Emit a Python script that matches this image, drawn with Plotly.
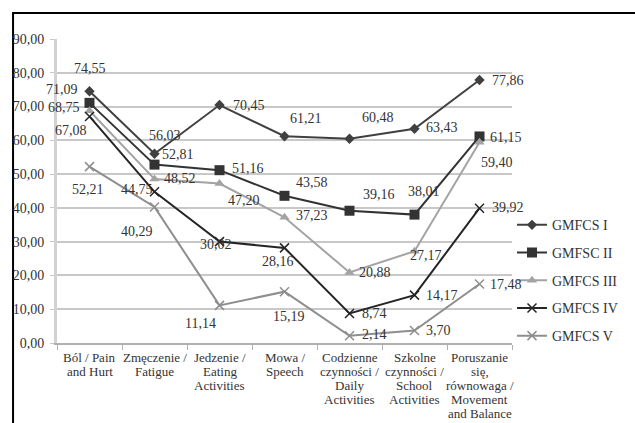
import plotly.graph_objects as go

# Categories (x-axis); each label is split into its printed lines
category_lines = [
    ["Ból / Pain", "and Hurt"],
    ["Zmęczenie /", "Fatigue"],
    ["Jedzenie /", "Eating", "Activities"],
    ["Mowa /", "Speech"],
    ["Codzienne", "czynności /", "Daily", "Activities"],
    ["Szkolne", "czynności /", "School", "Activities"],
    ["Poruszanie", "się,", "równowaga /", "Movement", "and Balance"],
]
categories = [" ".join(lines) for lines in category_lines]

series_names = ["GMFCS I", "GMFSC II", "GMFCS III", "GMFCS IV", "GMFCS V"]

gmfcs_1 = [74.55, 56.03, 70.45, 61.21, 60.48, 63.43, 77.86]
gmfcs_2 = [71.09, 52.81, 51.16, 43.58, 39.16, 38.01, 61.15]
gmfcs_3 = [68.75, 48.52, 47.20, 37.23, 20.88, 27.17, 59.40]
gmfcs_4 = [67.08, 44.75, 30.02, 28.16, 8.74, 14.17, 39.92]
gmfcs_5 = [52.21, 40.29, 11.14, 15.19, 2.14, 3.70, 17.48]

series_values = [gmfcs_1, gmfcs_2, gmfcs_3, gmfcs_4, gmfcs_5]

y_ticks = [0, 10, 20, 30, 40, 50, 60, 70, 80, 90]

# Styling per series
line_colors = ["#404040", "#333333", "#a3a3a3", "#252525", "#8e8e8e"]
marker_symbols = ["diamond", "square", "triangle-up", "x-thin", "x-thin"]
marker_sizes = [8, 10, 9, 9, 9]

# Pixel offsets (dx, dy) of each value label from its point
label_offsets = [
    [(0, -23), (10, -18), (29, 0), (21, -18), (28, -21), (27, -1), (28, 0)],
    [(-28, -13), (23, -10), (28, -2), (27, -13), (29, -16), (9, -23), (26, 1)],
    [(-26, -3), (25, -1), (24, 17), (27, -2), (25, 0), (11, 4), (17, 20)],
    [(-19, 14), (-18, -2), (-4, 3), (-7, 14), (25, 0), (27, 0), (28, -1)],
    [(-2, 23), (-18, 25), (-19, 18), (4, 25), (25, -1), (24, 0), (26, 1)],
]

serif = "Liberation Serif, Times New Roman, serif"
text_color = "#333333"

fig = go.Figure()
for name, vals, col, sym, size in zip(series_names, series_values, line_colors,
                                      marker_symbols, marker_sizes):
    marker = dict(symbol=sym, size=size, color=col)
    if sym.endswith("thin"):
        marker["line"] = dict(color=col, width=1.5)
    fig.add_trace(go.Scatter(
        x=categories, y=vals, name=name, legendgroup=name,
        mode="lines+markers",
        line=dict(color=col, width=2),
        marker=marker,
    ))

annotations = []
# value labels next to each point
for vals, offs in zip(series_values, label_offsets):
    for cat, v, (dx, dy) in zip(categories, vals, offs):
        annotations.append(dict(
            x=cat, y=v, xref="x", yref="y",
            text=f"{v:.2f}".replace(".", ","),
            showarrow=False, xshift=dx, yshift=-dy,
            font=dict(family=serif, size=14, color=text_color),
        ))

# category labels under the axis, tightly spaced lines
for cat, lines in zip(categories, category_lines):
    for i, line in enumerate(lines):
        annotations.append(dict(
            x=cat, y=0, xref="x", yref="paper",
            text=line, showarrow=False,
            xanchor="center", yanchor="middle",
            yshift=-14 - 14 * i,
            font=dict(family=serif, size=13, color=text_color),
        ))

fig.update_layout(
    width=635, height=423,
    margin=dict(l=57, r=102, t=39, b=80),
    paper_bgcolor="white", plot_bgcolor="white",
    separators=", ",
    showlegend=True,
    legend=dict(
        x=1.0, y=0.44, xanchor="left", yanchor="top",
        traceorder="grouped", tracegroupgap=6.5,
        font=dict(family=serif, size=14, color=text_color),
        itemwidth=30, bgcolor="rgba(0,0,0,0)",
    ),
    annotations=annotations,
    shapes=[dict(
        type="rect", xref="paper", yref="paper",
        x0=-0.0966, x1=1.3, y0=-0.4, y1=1.0855,
        line=dict(color="black", width=2), layer="below",
    )],
)

fig.update_xaxes(
    type="category", tickson="boundaries", ticks="outside", ticklen=5,
    tickcolor="#b0b0b0", showline=True, linecolor="#b0b0b0", linewidth=1.5,
    showgrid=False, range=[-0.5, 6.5], showticklabels=False, automargin=False,
)
fig.update_yaxes(
    range=[0, 90], tickvals=y_ticks, tickformat=".2f",
    showgrid=True, gridcolor="#c8c8c8", gridwidth=1.5,
    showline=True, linecolor="#d2d2d2", linewidth=3,
    ticks="outside", ticklen=4, tickcolor="#c8c8c8", ticklabelstandoff=3,
    zeroline=False, automargin=False,
    tickfont=dict(family=serif, size=14, color=text_color),
)

fig.write_html("out.html")
